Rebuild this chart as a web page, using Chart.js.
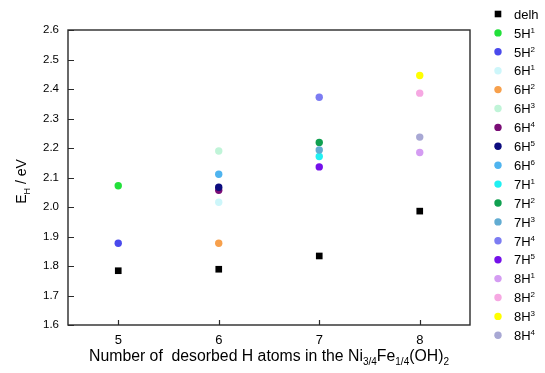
<!DOCTYPE html>
<html><head><meta charset="utf-8">
<script src="https://cdn.jsdelivr.net/npm/chart.js@4/dist/chart.umd.min.js"></script>
<style>html,body{margin:0;padding:0;background:#fff;}</style>
</head><body>
<canvas id="c" width="545" height="373"></canvas>
<script>
// ---- data ----
const seriesBase = ['delh','5H','5H','6H','6H','6H','6H','6H','6H','7H','7H','7H','7H','7H','8H','8H','8H','8H'];
const seriesSup  = ['', '1','2','1','2','3','4','5','6','1','2','3','4','5','1','2','3','4'];
const seriesX = [[5,6,7,8],[5],[5],[6],[6],[6],[6],[6],[6],[7],[7],[7],[7],[7],[8],[8],[8],[8]];
const seriesY = [[1.784,1.789,1.834,1.986],[2.072],[1.877],[2.016],[1.877],[2.190],[2.057],[2.067],[2.111],
                 [2.171],[2.219],[2.193],[2.372],[2.136],[2.185],[2.386],[2.446],[2.237]];
const seriesColors = ['#000000','#22e03a','#4a4aec','#cdf6fa','#f7a04c','#c0f4d8','#7a0e76','#0c0c7e','#4fb4ef',
                      '#20f0f2','#10a050','#62acd2','#7c7cf2','#7410ea','#d49cf2','#f6a8e2','#ffff00','#a8a8d4'];
const xTickValues = [5,6,7,8];
const yTickValues = [1.6,1.7,1.8,1.9,2.0,2.1,2.2,2.3,2.4,2.5,2.6];
const xTitleParts = [['Number of  desorbed H atoms in the Ni',''],['3/4','sub'],['Fe',''],['1/4','sub'],['(OH)',''],['2','sub']];
const yTitleParts = [['E',''],['H','sub'],[' / eV','']];

const datasets = seriesBase.map((b,i)=>({
  label: b + seriesSup[i],
  data: seriesX[i].map((x,j)=>({x:x, y:seriesY[i][j]})),
  pointStyle: i===0 ? 'rect' : 'circle',
  pointRadius: i===0 ? 4.7 : 3.7,
  pointHoverRadius: i===0 ? 4.7 : 3.7,
  pointBorderWidth: 0,
  backgroundColor: seriesColors[i],
  borderColor: seriesColors[i],
  showLine: false,
  order: -i
}));

const FONT = '"Liberation Sans", Arial, sans-serif';

function measureRich(ctx, parts, size, subSize){
  let w = 0;
  const m = parts.map(([t,k])=>{ ctx.font = (k? subSize: size) + 'px ' + FONT; const tw = ctx.measureText(t).width; w += tw; return tw; });
  return {w, m};
}
function renderRich(ctx, parts, x, y, size, subSize, subShift, align){
  const {w, m} = measureRich(ctx, parts, size, subSize);
  let cx = align==='center' ? x - w/2 : x;
  parts.forEach(([t,k],i)=>{
    ctx.font = (k? subSize: size) + 'px ' + FONT;
    let dy = 0;
    if (k==='sub') dy = subShift;
    if (k==='sup') dy = -subShift;
    ctx.fillText(t, cx, y + dy);
    cx += m[i];
  });
}

const decor = {
  id: 'decor',
  afterDraw(chart){
    const ctx = chart.ctx, a = chart.chartArea;
    const xs = chart.scales.x, ys = chart.scales.y;
    ctx.save();
    ctx.strokeStyle = '#2a2a2a';
    ctx.lineWidth = 1.4;
    ctx.strokeRect(a.left, a.top, a.right - a.left, a.bottom - a.top);
    ctx.lineWidth = 1.2;
    ctx.beginPath();
    yTickValues.forEach(v=>{ const py = Math.round(ys.getPixelForValue(v)) + 0.5; ctx.moveTo(a.left, py); ctx.lineTo(a.left + 6, py); });
    xTickValues.forEach(v=>{ const px = Math.round(xs.getPixelForValue(v)) + 0.5; ctx.moveTo(px, a.bottom); ctx.lineTo(px, a.bottom - 5); });
    ctx.stroke();
    // axis titles
    ctx.fillStyle = '#000';
    ctx.textBaseline = 'alphabetic';
    ctx.textAlign = 'left';
    renderRich(ctx, xTitleParts, (a.left + a.right)/2, 361, 15.8, 10, 3.5, 'center');
    ctx.save();
    ctx.translate(26, (a.top + a.bottom)/2 + 4);
    ctx.rotate(-Math.PI/2);
    renderRich(ctx, yTitleParts, 0, 0, 14, 9, 3.5, 'center');
    ctx.restore();
    // legend
    chart.data.datasets.forEach((ds,i)=>{
      const y = 14 + i*18.9;
      const mx = 498;
      ctx.fillStyle = seriesColors[i];
      ctx.beginPath();
      if (i===0) { ctx.rect(mx-3.3, y-3.3, 6.6, 6.6); }
      else { ctx.arc(mx, y, 3.7, 0, Math.PI*2); }
      ctx.fill();
      ctx.fillStyle = '#000';
      ctx.textBaseline = 'alphabetic';
      renderRich(ctx, [[seriesBase[i],''],[seriesSup[i],'sup']], 514, y + 4.7, 13, 8, 5, 'left');
    });
    ctx.restore();
  }
};

new Chart(document.getElementById('c'), {
  type: 'scatter',
  data: { datasets },
  options: {
    responsive: false,
    animation: false,
    devicePixelRatio: 1,
    layout: { padding: { top: 30, right: 75, left: 0, bottom: 0 } },
    plugins: { legend: { display: false }, tooltip: { enabled: false } },
    scales: {
      x: {
        type: 'linear', min: 4.5, max: 8.5,
        afterBuildTicks: s => { s.ticks = xTickValues.map(v=>({value:v})); },
        afterFit: s => { s.height = 48; },
        grid: { display: false }, border: { display: false },
        ticks: { color: '#000', font: { size: 13, family: FONT }, padding: 0, callback: v => String(v) }
      },
      y: {
        type: 'linear', min: 1.6, max: 2.6,
        afterBuildTicks: s => { s.ticks = yTickValues.map(v=>({value:v})); },
        afterFit: s => { s.width = 68; },
        grid: { display: false }, border: { display: false },
        ticks: { color: '#000', font: { size: 11.5, family: FONT }, padding: 1, callback: v => Number(v).toFixed(1) }
      }
    }
  },
  plugins: [decor]
});
</script>
</body></html>
